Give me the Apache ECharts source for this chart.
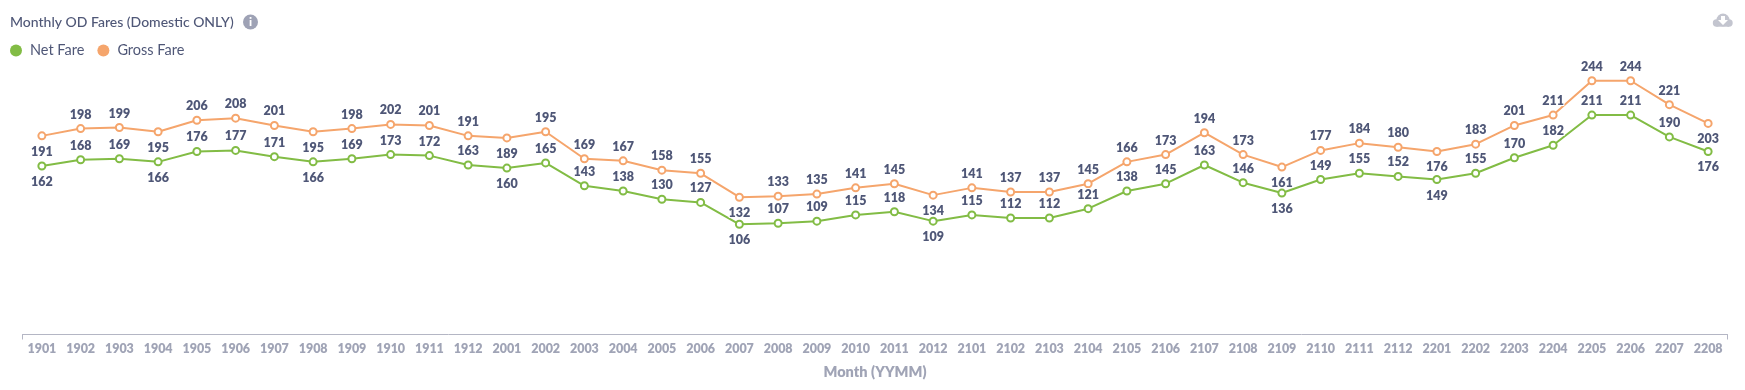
<!DOCTYPE html>
<html><head><meta charset="utf-8">
<style>html,body{margin:0;padding:0;background:#fff}#c{width:1745px;height:390px}</style>
<script src="https://cdn.jsdelivr.net/npm/echarts@6/dist/echarts.min.js"></script>
</head><body><div id="c"></div>
<script>
const months = ['1901','1902','1903','1904','1905','1906','1907','1908','1909','1910','1911','1912','2001','2002','2003','2004','2005','2006','2007','2008','2009','2010','2011','2012','2101','2102','2103','2104','2105','2106','2107','2108','2109','2110','2111','2112','2201','2202','2203','2204','2205','2206','2207','2208'];
const netFare = [162,168,169,166,176,177,171,166,169,173,172,163,160,165,143,138,130,127,106,107,109,115,118,109,115,112,112,121,138,145,163,146,136,149,155,152,149,155,170,182,211,211,190,176];
const grossFare = [191,198,199,195,206,208,201,195,198,202,201,191,189,195,169,167,158,155,132,133,135,141,145,134,141,137,137,145,166,173,194,173,161,177,184,180,176,183,201,211,244,244,221,203];
const GREEN='#82bc45', ORANGE='#f5a56c', INK='#4f5777', MUTED='#a0a4b6', ICON='#c3c5cf';
const FONT='Lato, sans-serif';
function points(vals){
  return vals.map((v,i)=>{
    const l=i===0?Infinity:vals[i-1], r=i===vals.length-1?Infinity:vals[i+1];
    const low=v<l&&v<r;
    return {value:v,label:{position:low?'bottom':'top',distance:low?5:3}};
  });
}
function series(name,vals,color){
  return {name,type:'line',data:points(vals),symbol:'circle',symbolSize:7,showAllSymbol:true,
    lineStyle:{color,width:2},itemStyle:{color:'#fff',borderColor:color,borderWidth:2},
    emphasis:{disabled:true},animation:false,
    label:{show:true,color:INK,fontFamily:FONT,fontSize:12.5,fontWeight:800,textBorderColor:'#fff',textBorderWidth:2}};
}
const chart=echarts.init(document.getElementById('c'),null,{renderer:'canvas'});
chart.setOption({
  animation:false,backgroundColor:'#fff',
  title:{text:'Monthly OD Fares (Domestic ONLY)',left:5,top:10,textStyle:{fontFamily:FONT,fontSize:14,fontWeight:500,color:INK}},
  legend:{left:5,top:38,icon:'circle',itemWidth:12,itemHeight:12,itemGap:13,
    selectedMode:false,textStyle:{fontFamily:FONT,fontSize:14.5,color:INK,padding:[0,0,0,3]},
    data:[{name:'Net Fare',itemStyle:{color:GREEN,borderWidth:0}},{name:'Gross Fare',itemStyle:{color:ORANGE,borderWidth:0}}]},
  grid:{left:22.5,right:17.5,top:74.5,bottom:55.5},
  xAxis:[
    {type:'category',data:months,boundaryGap:true,position:'bottom',
    name:'Month (YYMM)',nameLocation:'middle',nameGap:30,
    nameTextStyle:{fontFamily:FONT,fontSize:14.5,fontWeight:800,color:MUTED},
    axisLine:{show:false},axisTick:{show:false},
    axisLabel:{interval:0,margin:8,fontFamily:FONT,fontSize:12.5,fontWeight:800,color:MUTED}},
    {type:'value',position:'bottom',min:0,max:1,interval:1,splitLine:{show:false},
    axisLine:{show:true,lineStyle:{color:'#b4b6c4',width:1}},
    axisTick:{show:true,length:5,lineStyle:{color:'#b4b6c4'}},axisLabel:{show:false}}
  ],
  yAxis:{type:'value',min:0,max:250,show:false},
  tooltip:{show:false},
  series:[series('Net Fare',netFare,GREEN),series('Gross Fare',grossFare,ORANGE)],
  graphic:[
    {type:'circle',shape:{cx:250.5,cy:22,r:7.5},style:{fill:'#9ea2b5'},silent:true},
    {type:'text',style:{x:250.5,y:22,text:'i',fill:'#fff',font:'900 12px '+FONT,textAlign:'center',textVerticalAlign:'middle'},silent:true},
    {type:'circle',shape:{cx:1723,cy:20,r:6.5},style:{fill:ICON},silent:true},
    {type:'circle',shape:{cx:1716.5,cy:23,r:3.7},style:{fill:ICON},silent:true},
    {type:'circle',shape:{cx:1729,cy:23,r:3.7},style:{fill:ICON},silent:true},
    {type:'rect',shape:{x:1716.5,y:22,width:12.5,height:4.7},style:{fill:ICON},silent:true},
    {type:'polygon',shape:{points:[[1721,16],[1725,16],[1725,20],[1728,20],[1723,25],[1718,20],[1721,20]]},style:{fill:'#fff'},silent:true}
  ]
});
</script></body></html>
